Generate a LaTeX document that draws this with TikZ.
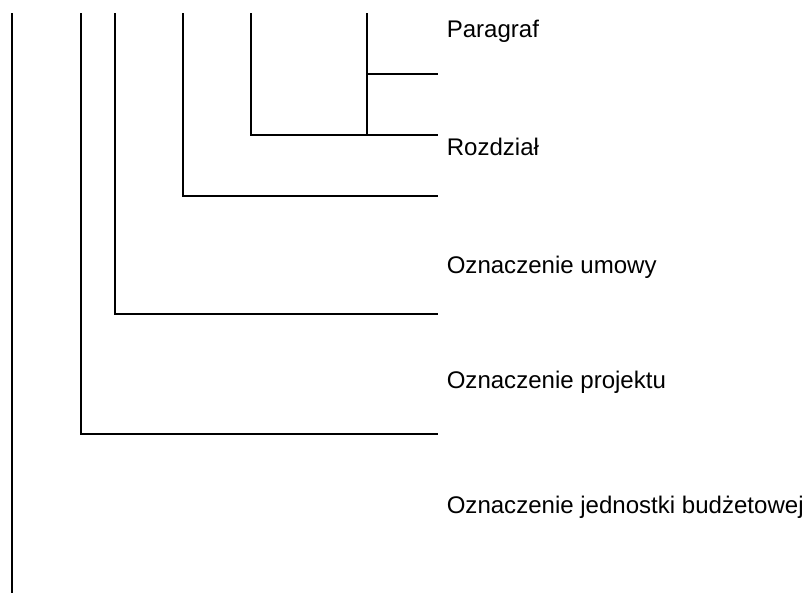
\documentclass[tikz,border=0pt]{standalone}
\usepackage{fontspec}
\setmainfont{Liberation Sans}

\begin{document}
\begin{tikzpicture}[x=0.025cm, y=-0.025cm, line width=1.1pt,
  label/.style={anchor=base west, inner sep=0pt, font=\fontsize{17.1}{20}\selectfont}]
  \useasboundingbox (0, 0) rectangle (805, 593);
  % Nodes
  \node (paragraf) [label] at (446, 37) {Paragraf};
  \node (rozdzial) [label] at (446, 155) {Rozdział};
  \node (umowa) [label] at (446, 273) {Oznaczenie umowy};
  \node (projekt) [label] at (446, 388) {Oznaczenie projektu};
  \node (jednostka) [label] at (446, 513) {Oznaczenie jednostki budżetowej};
  % Corners
  \coordinate (jb-top) at (12, 13);
  \coordinate (jb-end) at (12, 593);
  \coordinate (pr-top) at (81, 13);
  \coordinate (pr-turn) at (81, 434);
  \coordinate (pr-end) at (438, 434);
  \coordinate (um-top) at (115, 13);
  \coordinate (um-turn) at (115, 314);
  \coordinate (um-end) at (438, 314);
  \coordinate (dz-top) at (183, 13);
  \coordinate (dz-turn) at (183, 196);
  \coordinate (dz-end) at (438, 196);
  \coordinate (rz-top) at (251, 13);
  \coordinate (rz-turn) at (251, 135);
  \coordinate (rz-end) at (438, 135);
  \coordinate (pa-top) at (367, 13);
  \coordinate (pa-turn) at (367, 135);
  \coordinate (pa-fork) at (367, 74);
  \coordinate (pa-end) at (438, 74);
  % Lines
  \draw (jb-top) -- (jb-end);
  \draw (pr-top) -- (pr-turn) -- (pr-end);
  \draw (um-top) -- (um-turn) -- (um-end);
  \draw (dz-top) -- (dz-turn) -- (dz-end);
  \draw (rz-top) -- (rz-turn) -- (rz-end);
  \draw (pa-top) -- (pa-turn);
  \draw (pa-fork) -- (pa-end);
\end{tikzpicture}
\end{document}
